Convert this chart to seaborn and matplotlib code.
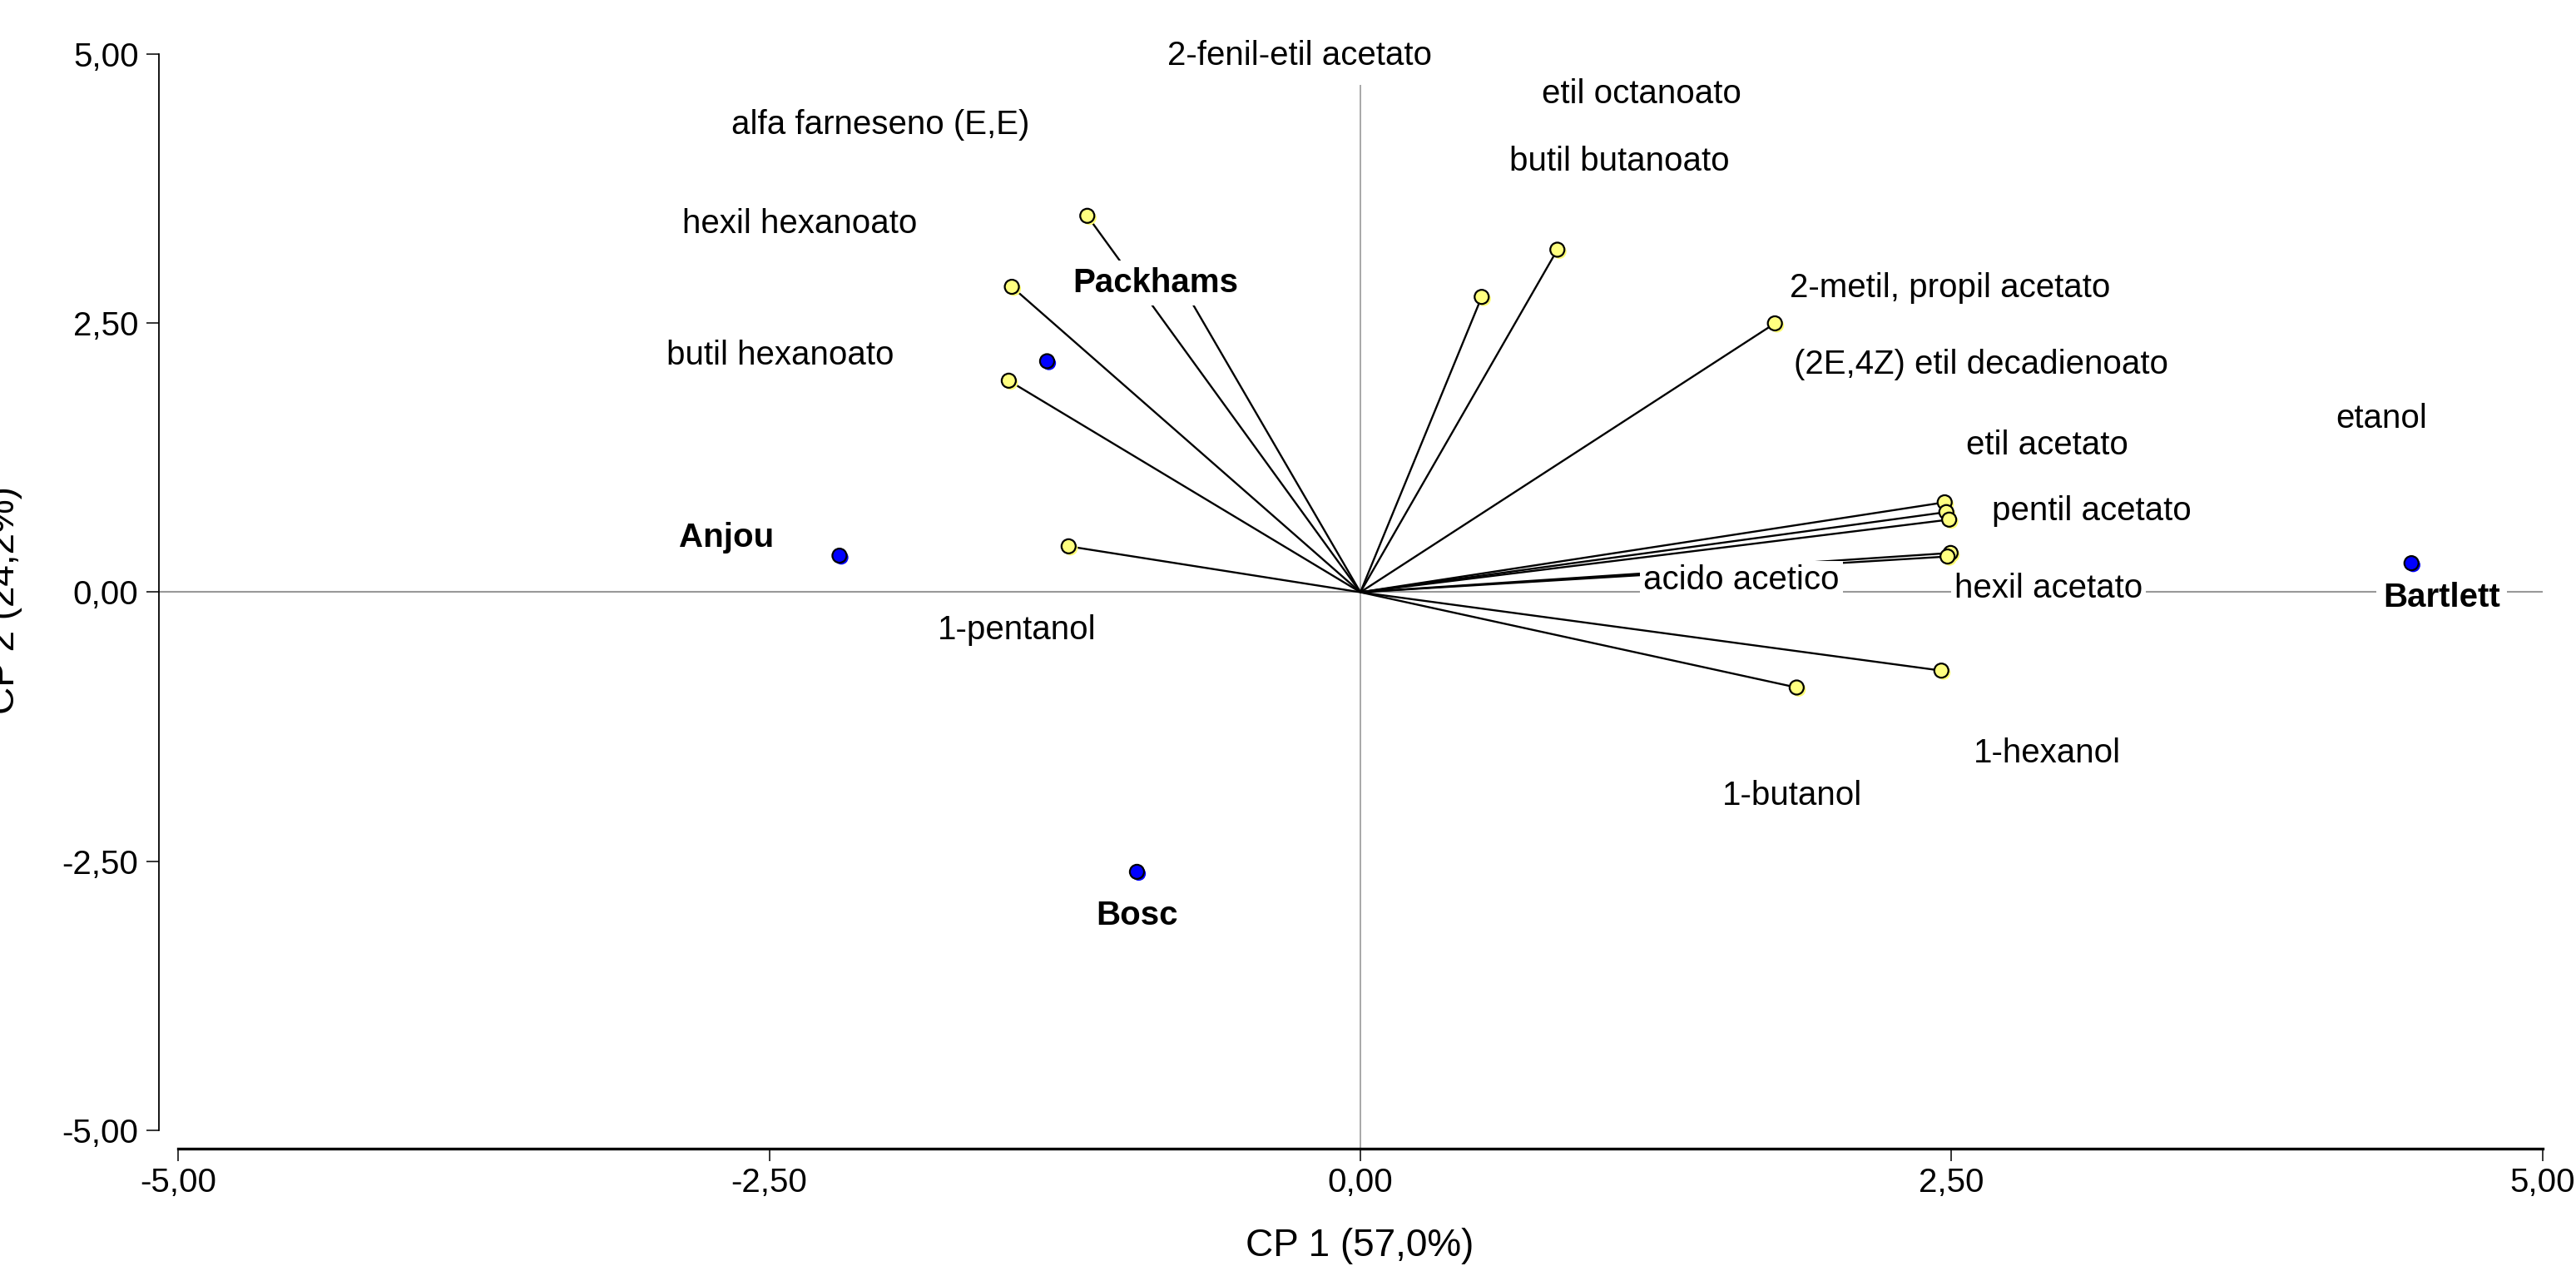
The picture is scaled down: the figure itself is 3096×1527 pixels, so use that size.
import matplotlib
matplotlib.use("Agg")
import matplotlib.pyplot as plt
import matplotlib.patheffects as pe
from matplotlib.ticker import FixedLocator, FuncFormatter
import seaborn as sns

# ---------------- data ----------------
# variable loadings (yellow points, joined to the origin)
var_x = [-1.155, -1.474, -1.487, -1.234, -0.771, 0.513, 0.833, 1.753,
         2.471, 2.478, 2.490, 2.496, 2.483, 2.457, 1.845]
var_y = [3.500, 2.840, 1.967, 0.427, 2.914, 2.746, 3.185, 2.500,
         0.836, 0.745, 0.675, 0.365, 0.332, -0.729, -0.886]

# variable names and where their labels sit
var_names = ["2-fenil-etil acetato", "etil octanoato", "alfa farneseno (E,E)",
             "butil butanoato", "hexil hexanoato", "2-metil, propil acetato",
             "butil hexanoato", "(2E,4Z) etil decadienoato", "etanol",
             "etil acetato", "pentil acetato", "acido acetico", "hexil acetato",
             "1-pentanol", "1-hexanol", "1-butanol"]
var_label_x = [-0.258, 1.188, -2.029, 1.097, -2.370, 2.494, -2.453, 2.626, 4.317,
               2.904, 3.091, 1.612, 2.911, -1.453, 2.904, 1.827]
var_label_y = [4.987, 4.635, 4.345, 4.009, 3.428, 2.831, 2.204, 2.113, 1.614,
               1.364, 0.752, 0.110, 0.033, -0.349, -1.495, -1.893]

# cultivar scores (blue points)
cult_names = ["Packhams", "Anjou", "Bosc", "Bartlett"]
cult_x = [-1.325, -2.203, -0.945, 4.445]
cult_y = [2.148, 0.340, -2.600, 0.270]
cult_label_x = [-0.866, -2.682, -0.945, 4.574]
cult_label_y = [2.875, 0.507, -3.009, -0.050]

x_ticks = [-5.0, -2.5, 0.0, 2.5, 5.0]
y_ticks = [-5.0, -2.5, 0.0, 2.5, 5.0]
x_label = "CP 1 (57,0%)"
y_label = "CP 2 (24,2%)"

# ---------------- style ----------------
sns.set_style("ticks")
plt.rcParams["font.family"] = ["Liberation Sans", "DejaVu Sans"]
plt.rcParams["text.color"] = "black"
plt.rcParams["axes.labelcolor"] = "black"
plt.rcParams["xtick.color"] = "black"
plt.rcParams["ytick.color"] = "black"

fig = plt.figure(figsize=(30.96, 15.27), dpi=100)
ax = fig.add_axes([0.06179, 0.09627, 0.92574, 0.86339])
ax.set_xlim(-5.08, 5.005)
ax.set_ylim(-5.174, 5.03)

# reference lines through the origin
ax.plot([-5.08, 5.0], [0, 0], color="#999999", lw=1.5, zorder=1, solid_capstyle="butt")
ax.plot([0, 0], [-5.174, 4.72], color="#999999", lw=1.2, zorder=1, solid_capstyle="butt")

# loading vectors
for vx, vy in zip(var_x, var_y):
    ax.plot([0, vx], [0, vy], color="black", lw=1.7, zorder=2, solid_capstyle="butt")

yellow_shadow = [pe.SimplePatchShadow(offset=(1.8, -1.8), shadow_rgbFace=(1.0, 1.0, 0.45), alpha=1.0),
                 pe.Normal()]
blue_shadow = [pe.SimplePatchShadow(offset=(1.6, -1.6), shadow_rgbFace=(0.0, 0.0, 1.0), alpha=1.0),
               pe.Normal()]

sns.scatterplot(x=var_x, y=var_y, ax=ax, s=150, color="#FFFF80",
                edgecolor="black", linewidth=1.6, zorder=3,
                path_effects=yellow_shadow, legend=False)
sns.scatterplot(x=cult_x, y=cult_y, ax=ax, s=150, color="#0000FF",
                edgecolor="black", linewidth=1.6, zorder=3,
                path_effects=blue_shadow, legend=False)

# labels
for name, lx, ly in zip(var_names, var_label_x, var_label_y):
    ax.text(lx, ly, name, fontsize=29, color="black", ha="center", va="center", zorder=4,
            bbox=dict(boxstyle="square,pad=0.1", facecolor="white", edgecolor="none"))
for name, lx, ly in zip(cult_names, cult_label_x, cult_label_y):
    ax.text(lx, ly, name, fontsize=29, color="black", fontweight="bold",
            ha="center", va="center", zorder=4,
            bbox=dict(boxstyle="square,pad=0.2", facecolor="white", edgecolor="none"))

# axes styling
fmt = FuncFormatter(lambda v, p: f"{v:.2f}".replace(".", ","))
ax.xaxis.set_major_locator(FixedLocator(x_ticks))
ax.yaxis.set_major_locator(FixedLocator(y_ticks))
ax.xaxis.set_major_formatter(fmt)
ax.yaxis.set_major_formatter(fmt)
ax.tick_params(axis="both", direction="out", length=10.8, width=1.1,
               labelsize=29, colors="black")
ax.tick_params(axis="x", pad=5)
ax.tick_params(axis="y", pad=7)

for side in ["top", "right"]:
    ax.spines[side].set_visible(False)
ax.spines["left"].set_bounds(-5, 5)
ax.spines["bottom"].set_bounds(-5, 5)
ax.spines["left"].set_linewidth(1.3)
ax.spines["bottom"].set_linewidth(2.4)
ax.spines["left"].set_color("black")
ax.spines["bottom"].set_color("black")

ax.set_xlabel(x_label, fontsize=33, color="black")
ax.set_ylabel(y_label, fontsize=33, color="black")
ax.xaxis.set_label_coords(0.5035, -0.0723)
ax.yaxis.set_label_coords(-0.0573, 0.5)
ax.grid(False)

fig.savefig("out.png", dpi=100, facecolor="white")
